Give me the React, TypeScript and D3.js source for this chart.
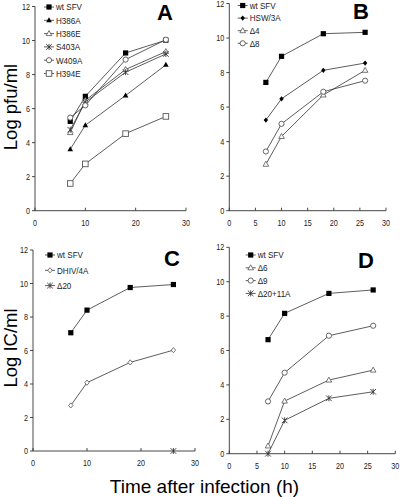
import React from "react";
import * as d3 from "d3";

const times = [7, 10, 18, 26];

// Panel A (Log pfu/ml)
const wtA = [5.25, 6.72, 9.27, 10.02];
const h386a = [3.61, 5.02, 6.77, 8.57];
const h386e = [4.59, 6.48, 8.3, 9.35];
const s403a = [4.76, 6.38, 8.14, 9.21];
const w409a = [5.47, 6.19, 8.88, 10.05];
const h394e = [1.6, 2.75, 4.53, 5.54];

// Panel B
const wtB = [7.43, 8.94, 10.25, 10.33];
const hsw3a = [5.25, 6.48, 8.13, 8.55];
const d4 = [2.69, 4.3, 6.7, 8.13];
const d8 = [3.43, 5.03, 6.89, 7.53];

// Panel C (Log IC/ml)
const wtC = [7.06, 8.41, 9.76, 9.94];
const dhiv4a = [2.72, 4.08, 5.29, 6.02];
const d20Times = [26];
const d20 = [0];

// Panel D
const wtD = [6.63, 8.16, 9.32, 9.52];
const d6 = [0.45, 3.06, 4.28, 4.86];
const d9 = [3.04, 4.71, 6.86, 7.44];
const d20p11a = [0, 1.94, 3.22, 3.6];

const yTicks = [0, 2, 4, 6, 8, 10, 12];
const xTicksCoarse = [0, 10, 20, 30];
const xTicksFine = [0, 5, 10, 15, 20, 25, 30];

const FONT = "Arial, 'Liberation Sans', sans-serif";
const LINE = "#333";
const OPEN = "#555";

type MarkerKind = "sqF" | "triF" | "triO" | "star" | "circO" | "sqO" | "diaF" | "diaO";

function Marker({ kind, x, y }: { kind: MarkerKind; x: number; y: number }) {
  switch (kind) {
    case "sqF":
      return <rect x={x - 2.6} y={y - 2.6} width={5.2} height={5.2} fill="#000" />;
    case "sqO":
      return <rect x={x - 2.8} y={y - 2.8} width={5.6} height={5.6} fill="#fff" stroke={OPEN} strokeWidth={0.9} />;
    case "triF":
      return <path d={`M${x},${y - 3} L${x + 2.8},${y + 2} L${x - 2.8},${y + 2} Z`} fill="#000" />;
    case "triO":
      return <path d={`M${x},${y - 3} L${x + 2.8},${y + 2} L${x - 2.8},${y + 2} Z`} fill="#fff" stroke={OPEN} strokeWidth={0.8} />;
    case "circO":
      return <circle cx={x} cy={y} r={2.6} fill="#fff" stroke={OPEN} strokeWidth={0.9} />;
    case "diaF":
      return <path d={`M${x},${y - 2.6} L${x + 2.2},${y} L${x},${y + 2.6} L${x - 2.2},${y} Z`} fill="#000" />;
    case "diaO":
      return <path d={`M${x},${y - 2.6} L${x + 2.2},${y} L${x},${y + 2.6} L${x - 2.2},${y} Z`} fill="#fff" stroke={OPEN} strokeWidth={0.8} />;
    case "star":
      return (
        <g stroke="#333" strokeWidth={0.9}>
          <line x1={x - 2.8} y1={y - 2.8} x2={x + 2.8} y2={y + 2.8} />
          <line x1={x - 2.8} y1={y + 2.8} x2={x + 2.8} y2={y - 2.8} />
          <line x1={x} y1={y - 3} x2={x} y2={y + 3} />
        </g>
      );
  }
  return null;
}

type Series = { name: string; xs: number[]; ys: number[]; kind: MarkerKind };

type PanelProps = {
  x0: number;
  x1: number;
  yZero: number;
  yTop: number;
  xTicks: number[];
  series: Series[];
  legendX: number;
  legendY: number;
  legendGap: number;
  letter: string;
  letterX: number;
  letterY: number;
};

function SmallText({ x, y, anchor, size, children }: { x: number; y: number; anchor: string; size: number; children: React.ReactNode }) {
  return (
    <text
      transform={`translate(${x},${y}) scale(0.85,1)`}
      fontSize={size}
      textAnchor={anchor}
      fontFamily={FONT}
      fill="#222"
    >
      {children}
    </text>
  );
}

function Panel(p: PanelProps) {
  const xs = d3.scaleLinear().domain([0, 30]).range([p.x0, p.x1]);
  const ys = d3.scaleLinear().domain([0, 12]).range([p.yZero, p.yTop]);
  const line = d3
    .line<[number, number]>()
    .x((d) => xs(d[0]))
    .y((d) => ys(d[1]));
  return (
    <g>
      <line x1={p.x0} y1={p.yZero} x2={p.x1} y2={p.yZero} stroke={LINE} strokeWidth={0.9} />
      <line x1={p.x0} y1={p.yZero} x2={p.x0} y2={p.yTop} stroke={LINE} strokeWidth={0.9} />
      {yTicks.map((t) => (
        <g key={"y" + t}>
          <line x1={p.x0 - 3} y1={ys(t)} x2={p.x0} y2={ys(t)} stroke={LINE} strokeWidth={0.9} />
          <SmallText x={p.x0 - 5} y={ys(t) + 3} anchor="end" size={8.5}>
            {t}
          </SmallText>
        </g>
      ))}
      {p.xTicks.map((t) => (
        <g key={"x" + t}>
          <line x1={xs(t)} y1={p.yZero} x2={xs(t)} y2={p.yZero - 3} stroke={LINE} strokeWidth={0.9} />
          <SmallText x={xs(t)} y={p.yZero + 15} anchor="middle" size={8.5}>
            {t}
          </SmallText>
        </g>
      ))}
      {p.series.map((s) =>
        s.xs.length > 1 ? (
          <path
            key={"l" + s.name}
            d={line(s.xs.map((x, i) => [x, s.ys[i]] as [number, number])) || ""}
            fill="none"
            stroke={LINE}
            strokeWidth={0.8}
          />
        ) : null
      )}
      {p.series.map((s) =>
        s.xs.map((x, i) => <Marker key={s.name + i} kind={s.kind} x={xs(x)} y={ys(s.ys[i])} />)
      )}
      {p.series.map((s, i) => {
        const ly = p.legendY + i * p.legendGap;
        return (
          <g key={"lg" + s.name}>
            <line x1={p.legendX - 5} y1={ly} x2={p.legendX + 5} y2={ly} stroke={LINE} strokeWidth={0.8} />
            <Marker kind={s.kind} x={p.legendX} y={ly} />
            <SmallText x={p.legendX + 7} y={ly + 3.3} anchor="start" size={9.5}>
              {s.name}
            </SmallText>
          </g>
        );
      })}
      <text x={p.letterX} y={p.letterY} fontSize={22} fontWeight="bold" textAnchor="middle" fontFamily={FONT}>
        {p.letter}
      </text>
    </g>
  );
}

export default function App() {
  const seriesA: Series[] = [
    { name: "wt SFV", xs: times, ys: wtA, kind: "sqF" },
    { name: "H386A", xs: times, ys: h386a, kind: "triF" },
    { name: "H386E", xs: times, ys: h386e, kind: "triO" },
    { name: "S403A", xs: times, ys: s403a, kind: "star" },
    { name: "W409A", xs: times, ys: w409a, kind: "circO" },
    { name: "H394E", xs: times, ys: h394e, kind: "sqO" },
  ];
  const seriesB: Series[] = [
    { name: "wt SFV", xs: times, ys: wtB, kind: "sqF" },
    { name: "HSW/3A", xs: times, ys: hsw3a, kind: "diaF" },
    { name: "Δ4", xs: times, ys: d4, kind: "triO" },
    { name: "Δ8", xs: times, ys: d8, kind: "circO" },
  ];
  const seriesC: Series[] = [
    { name: "wt SFV", xs: times, ys: wtC, kind: "sqF" },
    { name: "DHIV/4A", xs: times, ys: dhiv4a, kind: "diaO" },
    { name: "Δ20", xs: d20Times, ys: d20, kind: "star" },
  ];
  const seriesD: Series[] = [
    { name: "wt SFV", xs: times, ys: wtD, kind: "sqF" },
    { name: "Δ6", xs: times, ys: d6, kind: "triO" },
    { name: "Δ9", xs: times, ys: d9, kind: "circO" },
    { name: "Δ20+11A", xs: times, ys: d20p11a, kind: "star" },
  ];
  return (
    <svg
      width={400}
      height={497}
      style={{ position: "absolute", left: 0, top: 0, background: "#fff" }}
      fontFamily={FONT}
    >
      <rect width={400} height={497} fill="#fff" />
      <Panel
        x0={35} x1={186} yZero={210.7} yTop={6.5} xTicks={xTicksCoarse} series={seriesA}
        legendX={49} legendY={7} legendGap={13.3} letter="A" letterX={165} letterY={20}
      />
      <Panel
        x0={229.3} x1={386} yZero={210.7} yTop={3.5} xTicks={xTicksFine} series={seriesB}
        legendX={242.7} legendY={5.5} legendGap={12.6} letter="B" letterX={361} letterY={19}
      />
      <Panel
        x0={33} x1={195} yZero={451} yTop={250} xTicks={xTicksCoarse} series={seriesC}
        legendX={50} legendY={255} legendGap={15.3} letter="C" letterX={172} letterY={266}
      />
      <Panel
        x0={229.3} x1={395.3} yZero={453.7} yTop={247.3} xTicks={xTicksFine} series={seriesD}
        legendX={250.7} legendY={255} legendGap={12.8} letter="D" letterX={366} letterY={268}
      />
      <text transform="translate(17,107) rotate(-90)" fontSize={18.5} textAnchor="middle" fontFamily={FONT}>
        Log pfu/ml
      </text>
      <text transform="translate(17,348) rotate(-90)" fontSize={18.5} textAnchor="middle" fontFamily={FONT}>
        Log IC/ml
      </text>
      <text x={204.5} y={493} fontSize={19} textAnchor="middle" fontFamily={FONT}>
        Time after infection (h)
      </text>
    </svg>
  );
}
